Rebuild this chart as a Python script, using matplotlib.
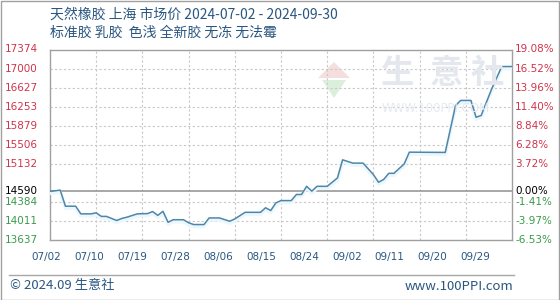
import matplotlib
matplotlib.use("Agg")
import matplotlib.pyplot as plt
import matplotlib.transforms as mtransforms
from matplotlib.lines import Line2D
from matplotlib.patches import Rectangle, Polygon
import pandas as pd

# ---------------- data ----------------
dates = ["2024-07-02", "2024-07-04", "2024-07-05", "2024-07-07", "2024-07-08",
         "2024-07-10", "2024-07-11", "2024-07-12", "2024-07-13", "2024-07-15",
         "2024-07-16", "2024-07-17", "2024-07-19", "2024-07-21", "2024-07-22",
         "2024-07-23", "2024-07-24", "2024-07-25", "2024-07-26", "2024-07-28",
         "2024-07-29", "2024-07-30", "2024-08-01", "2024-08-02", "2024-08-04",
         "2024-08-06", "2024-08-07", "2024-08-09", "2024-08-12", "2024-08-13",
         "2024-08-14", "2024-08-15", "2024-08-16", "2024-08-18", "2024-08-19",
         "2024-08-20", "2024-08-21", "2024-08-22", "2024-08-23", "2024-08-25",
         "2024-08-27", "2024-08-28", "2024-08-30", "2024-09-01", "2024-09-03",
         "2024-09-04", "2024-09-05", "2024-09-06", "2024-09-07", "2024-09-09",
         "2024-09-10", "2024-09-17", "2024-09-19", "2024-09-20", "2024-09-22",
         "2024-09-23", "2024-09-24", "2024-09-26", "2024-09-28", "2024-09-30"]
prices = [14590, 14615, 14300, 14300, 14150,
          14150, 14170, 14100, 14100, 14020,
          14060, 14085, 14150, 14155, 14195,
          14120, 14200, 13985, 14035, 14035,
          13975, 13940, 13940, 14070, 14070,
          14005, 14050, 14180, 14180, 14270,
          14215, 14365, 14410, 14410, 14530,
          14530, 14690, 14595, 14690, 14690,
          14855, 15210, 15145, 15145, 14920,
          14770, 14825, 14945, 14945, 15130,
          15360, 15355, 16275, 16375, 16375,
          16045, 16080, 16590, 17040, 17040]

base_price = 14590
y_ticks = [17374, 17000, 16627, 16253, 15879, 15506, 15132, 14590, 14384, 14011, 13637]
pct_labels = ["19.08%", "16.52%", "13.96%", "11.40%", "8.84%", "6.28%", "3.72%",
              "0.00%", "-1.41%", "-3.97%", "-6.53%"]
x_labels = ["07/02", "07/10", "07/19", "07/28", "08/06", "08/15", "08/24",
            "09/02", "09/11", "09/20", "09/29"]
title_line1 = "天然橡胶 上海 市场价 2024-07-02 - 2024-09-30"
title_line2 = "标准胶 乳胶  色浅 全新胶 无冻 无法霉"
footer_left = "© 2024.09 生意社"
footer_right = "www.100PPI.com"

# ---------------- style ----------------
W, H = 560, 300
CJK = ["Noto Sans CJK SC", "DejaVu Sans"]
TXT = "#2a5680"
RED = "#d0334a"
GREEN = "#3a9a4a"
GRID = "#c8c8c8"
LINE = "#4f86a8"

fig = plt.figure(figsize=(W / 100, H / 100), dpi=100)
fig.patch.set_facecolor("white")
L, R, T, B = 50, 512, 49.5, 240
ax = fig.add_axes([L / W, 1 - B / H, (R - L) / W, (B - T) / H])

x = pd.to_datetime(dates)
start = pd.Timestamp("2024-07-02")
end = pd.Timestamp("2024-09-30")
ax.set_xlim(start, end)
ax.set_ylim(min(y_ticks), max(y_ticks))
ax.set_xticks([])
ax.set_yticks([])
for s in ax.spines.values():
    s.set_color("#a0a0a0")
    s.set_linewidth(1)

# watermark
for ch, cx in zip("生意社", [398, 446, 487]):
    fig.text(cx / W, 1 - 73 / H, ch, fontsize=24, color="#e4e8ee",
             family=CJK, ha="center", va="center", fontweight="bold", zorder=0)
fig.text(436 / W, 1 - 109 / H, "WWW.100PPI.COM", fontsize=8.5, color="#e6eaf0",
         ha="center", va="center", zorder=0)
roof = Polygon([[318 / W, 1 - 78 / H], [334 / W, 1 - 62 / H], [350 / W, 1 - 78 / H]],
               closed=True, transform=fig.transFigure, facecolor="#f5dede",
               edgecolor="none", zorder=0)
body = Polygon([[322 / W, 1 - 80 / H], [346 / W, 1 - 80 / H], [334 / W, 1 - 98 / H]],
               closed=True, transform=fig.transFigure, facecolor="#dcefdc",
               edgecolor="none", zorder=0)
fig.add_artist(roof)
fig.add_artist(body)
ax.set_facecolor("none")

# horizontal grid
for v in y_ticks:
    if v == base_price:
        ax.axhline(v, color="#a0a0a0", lw=1.3, zorder=2)
    elif v not in (max(y_ticks), min(y_ticks)):
        ax.axhline(v, color=GRID, lw=0.8, ls=(0, (2, 2)), zorder=1)
# vertical grid (10 equal divisions)
for i in range(1, 10):
    ax.plot([i / 10, i / 10], [0, 1], transform=ax.transAxes, color=GRID,
            lw=0.8, ls=(0, (2, 2)), zorder=1)

# line with faint glow
glow = mtransforms.offset_copy(ax.transData, fig=fig, x=0, y=-2, units="dots")
ax.plot(x, prices, color="#eaf7fc", lw=2.5, transform=glow, zorder=3,
        solid_joinstyle="round")
ax.plot(x, prices, color=LINE, lw=1.1, zorder=4)

# y labels
bt_left = mtransforms.blended_transform_factory(fig.transFigure, ax.transData)
for v, p in zip(y_ticks, pct_labels):
    c = RED if v > base_price else ("black" if v == base_price else GREEN)
    fig.text(5 / W, v, str(v), transform=bt_left, fontsize=7.5, color=c,
             ha="left", va="center")
    fig.text(515 / W, v, p, transform=bt_left, fontsize=7.5, color=c,
             ha="left", va="center")

# x labels (evenly spaced)
for i, lab in enumerate(x_labels):
    cx = 46.5 + i * 42.9
    fig.text(cx / W, 1 - 257 / H, lab, fontsize=7.5, color=TXT,
             ha="center", va="center")

# titles
fig.text(50 / W, 1 - 15 / H, title_line1, fontsize=10, color=TXT, family=CJK,
         ha="left", va="center")
fig.text(50 / W, 1 - 33 / H, title_line2, fontsize=10, color=TXT, family=CJK,
         ha="left", va="center")

# footer
fig.add_artist(Line2D([9 / W, 514 / W], [1 - 275 / H] * 2, color="#a8a8a8", lw=1))
fig.text(10 / W, 1 - 286 / H, footer_left, fontsize=9.5, color=TXT, family=CJK,
         ha="left", va="center")
fig.text(513 / W, 1 - 286 / H, footer_right, fontsize=9.5, color=TXT, family=CJK,
         ha="right", va="center")

# outer border
fig.add_artist(Rectangle((0.5 / W, 0.5 / H), (W - 1.5) / W, (H - 1.5) / H,
                         transform=fig.transFigure, fill=False,
                         edgecolor="#a0a0a0", lw=1))

fig.savefig("out.png", dpi=100)
